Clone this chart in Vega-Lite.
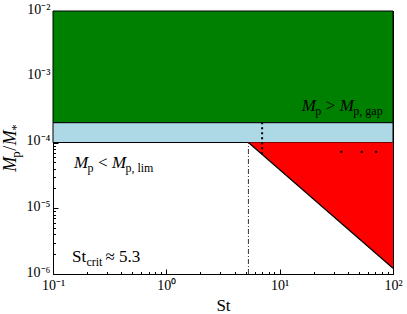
{
  "$schema": "https://vega.github.io/schema/vega-lite/v6.json",
  "width": 340,
  "height": 263,
  "autosize": "none",
  "padding": {"left": 53, "top": 11, "right": 14, "bottom": 40},
  "config": {
    "view": {"stroke": "black", "strokeWidth": 1},
    "font": "Liberation Serif",
    "text": {"font": "Liberation Serif", "color": "black"},
    "axis": {"grid": false, "domain": false, "labelFont": "Liberation Serif", "labelFontSize": 14, "labelColor": "black", "tickColor": "black", "tickWidth": 1, "titleFont": "Liberation Serif", "titleFontWeight": "normal", "titleColor": "black", "titleFontSize": 17}
  },
  "datasets": {
    "labels": [
      {"id": "gap", "St": 15.7, "M": 0.000301},
      {"id": "lim", "St": 0.153, "M": 0.0000409},
      {"id": "crit", "St": 0.147, "M": 0.00000152},
      {"id": "ytitle", "St": 0.1, "M": 0.000036}
    ]
  },
  "layer": [
    {
      "data": {"values": [{"x": 0.1, "x2": 100, "y": 0.0002, "y2": 0.01}]},
      "mark": {"type": "rect", "fill": "#008000", "stroke": "black", "strokeWidth": 1},
      "encoding": {
        "x": {"field": "x", "type": "quantitative", "scale": {"type": "log", "domain": [0.1, 100], "nice": false},
          "axis": {"orient": "bottom", "title": "St", "titlePadding": 3, "titleFont": "Liberation Serif", "labelFont": "Liberation Serif", "values": [0.1, 0.2, 0.3, 0.4, 0.5, 0.6, 0.7, 0.8, 0.9, 1, 2, 3, 4, 5, 6, 7, 8, 9, 10, 20, 30, 40, 50, 60, 70, 80, 90, 100],
            "labelExpr": "datum.value == 0.1 ? '10⁻¹' : datum.value == 1 ? '10⁰' : datum.value == 10 ? '10¹' : datum.value == 100 ? '10²' : ''",
            "tickSize": {"condition": {"test": "datum.value == 0.1 || datum.value == 1 || datum.value == 10 || datum.value == 100", "value": -5}, "value": -2.5},
            "labelPadding": 9, "labelFlush": false, "labelOverlap": false}},
        "x2": {"field": "x2"},
        "y": {"field": "y", "type": "quantitative", "scale": {"type": "log", "domain": [0.000001, 0.01], "nice": false},
          "axis": {"orient": "left", "title": null, "labelFont": "Liberation Serif", "values": [0.000001, 0.000002, 0.000003, 0.000004, 0.000005, 0.000006, 0.000007, 0.000008, 0.000009, 0.00001, 0.00002, 0.00003, 0.00004, 0.00005, 0.00006, 0.00007, 0.00008, 0.00009, 0.0001, 0.0002, 0.0003, 0.0004, 0.0005, 0.0006, 0.0007, 0.0008, 0.0009, 0.001, 0.002, 0.003, 0.004, 0.005, 0.006, 0.007, 0.008, 0.009, 0.01],
            "labelExpr": "datum.value == 0.000001 ? '10⁻⁶' : datum.value == 0.00001 ? '10⁻⁵' : datum.value == 0.0001 ? '10⁻⁴' : datum.value == 0.001 ? '10⁻³' : datum.value == 0.01 ? '10⁻²' : ''",
            "tickSize": {"condition": {"test": "datum.value == 0.000001 || datum.value == 0.00001 || datum.value == 0.0001 || datum.value == 0.001 || datum.value == 0.01", "value": -5}, "value": -2.5},
            "labelPadding": 8, "labelOffset": -2, "labelFlush": false, "labelOverlap": false}},
        "y2": {"field": "y2"}
      }
    },
    {
      "data": {"values": [{"x": 0.1, "x2": 100, "y": 0.0001, "y2": 0.0002}]},
      "mark": {"type": "rect", "fill": "#ADD8E6", "stroke": "black", "strokeWidth": 1},
      "encoding": {
        "x": {"field": "x", "type": "quantitative", "scale": {"type": "log", "domain": [0.1, 100], "nice": false},
          "axis": {"orient": "top", "title": null, "labels": false, "values": [0.1, 0.2, 0.3, 0.4, 0.5, 0.6, 0.7, 0.8, 0.9, 1, 2, 3, 4, 5, 6, 7, 8, 9, 10, 20, 30, 40, 50, 60, 70, 80, 90, 100],
            "tickSize": {"condition": {"test": "datum.value == 0.1 || datum.value == 1 || datum.value == 10 || datum.value == 100", "value": -5}, "value": -2.5}}},
        "x2": {"field": "x2"},
        "y": {"field": "y", "type": "quantitative", "scale": {"type": "log", "domain": [0.000001, 0.01], "nice": false},
          "axis": {"orient": "right", "title": null, "labels": false, "values": [0.000001, 0.000002, 0.000003, 0.000004, 0.000005, 0.000006, 0.000007, 0.000008, 0.000009, 0.00001, 0.00002, 0.00003, 0.00004, 0.00005, 0.00006, 0.00007, 0.00008, 0.00009, 0.0001, 0.0002, 0.0003, 0.0004, 0.0005, 0.0006, 0.0007, 0.0008, 0.0009, 0.001, 0.002, 0.003, 0.004, 0.005, 0.006, 0.007, 0.008, 0.009, 0.01],
            "tickSize": {"condition": {"test": "datum.value == 0.000001 || datum.value == 0.00001 || datum.value == 0.0001 || datum.value == 0.001 || datum.value == 0.01", "value": -5}, "value": -2.5}}},
        "y2": {"field": "y2"}
      }
    },
    {
      "data": {"values": [{"St": 5.3, "M": 0.0001, "Mtop": 0.0001}, {"St": 100, "M": 0.00000122, "Mtop": 0.0001}]},
      "mark": {"type": "area", "fill": "#FF0000"},
      "encoding": {
        "x": {"field": "St", "type": "quantitative", "scale": {"type": "log", "domain": [0.1, 100], "nice": false}, "axis": null},
        "y": {"field": "M", "type": "quantitative", "scale": {"type": "log", "domain": [0.000001, 0.01], "nice": false}, "axis": null},
        "y2": {"field": "Mtop"}
      }
    },
    {
      "data": {"values": [{"St": 5.3, "M": 0.0001}, {"St": 100, "M": 0.00000122}]},
      "mark": {"type": "line", "color": "black", "strokeWidth": 1.2},
      "encoding": {
        "x": {"field": "St", "type": "quantitative", "scale": {"type": "log", "domain": [0.1, 100], "nice": false}, "axis": null},
        "y": {"field": "M", "type": "quantitative", "scale": {"type": "log", "domain": [0.000001, 0.01], "nice": false}, "axis": null}
      }
    },
    {
      "data": {"values": [{"St": 5.3, "lo": 0.000001, "hi": 0.0001}]},
      "mark": {"type": "rule", "color": "#333333", "strokeWidth": 1, "strokeDash": [5, 2, 1, 2]},
      "encoding": {
        "x": {"field": "St", "type": "quantitative", "scale": {"type": "log", "domain": [0.1, 100], "nice": false}, "axis": null},
        "y": {"field": "lo", "type": "quantitative", "scale": {"type": "log", "domain": [0.000001, 0.01], "nice": false}, "axis": null},
        "y2": {"field": "hi"}
      }
    },
    {
      "data": {"values": [{"St": 7, "lo": 0.000066, "hi": 0.0002}]},
      "mark": {"type": "rule", "color": "black", "strokeWidth": 2, "strokeDash": [2, 3]},
      "encoding": {
        "x": {"field": "St", "type": "quantitative", "scale": {"type": "log", "domain": [0.1, 100], "nice": false}, "axis": null},
        "y": {"field": "lo", "type": "quantitative", "scale": {"type": "log", "domain": [0.000001, 0.01], "nice": false}, "axis": null},
        "y2": {"field": "hi"}
      }
    },
    {
      "data": {"values": [{"St": 35, "M": 0.000072}, {"St": 53, "M": 0.000072}, {"St": 71, "M": 0.000072}]},
      "mark": {"type": "point", "shape": "square", "filled": true, "color": "black", "size": 4, "opacity": 1},
      "encoding": {
        "x": {"field": "St", "type": "quantitative", "scale": {"type": "log", "domain": [0.1, 100], "nice": false}, "axis": null},
        "y": {"field": "M", "type": "quantitative", "scale": {"type": "log", "domain": [0.000001, 0.01], "nice": false}, "axis": null}
      }
    },
    {
      "data": {"name": "labels"},
      "transform": [{"filter": "datum.id == 'gap' || datum.id == 'lim'"}],
      "mark": {"type": "text", "text": "M", "font": "Liberation Serif", "fontStyle": "italic", "fontSize": 17, "align": "left", "baseline": "alphabetic", "color": "black"},
      "encoding": {
        "x": {"field": "St", "type": "quantitative", "scale": {"type": "log", "domain": [0.1, 100], "nice": false}, "axis": null},
        "y": {"field": "M", "type": "quantitative", "scale": {"type": "log", "domain": [0.000001, 0.01], "nice": false}, "axis": null}
      }
    },
    {
      "data": {"name": "labels"},
      "transform": [{"filter": "datum.id == 'gap' || datum.id == 'lim'"}],
      "mark": {"type": "text", "text": "p", "font": "Liberation Serif", "fontSize": 12, "align": "left", "baseline": "alphabetic", "dx": 13.5, "dy": 3.5, "color": "black"},
      "encoding": {
        "x": {"field": "St", "type": "quantitative", "scale": {"type": "log", "domain": [0.1, 100], "nice": false}, "axis": null},
        "y": {"field": "M", "type": "quantitative", "scale": {"type": "log", "domain": [0.000001, 0.01], "nice": false}, "axis": null}
      }
    },
    {
      "data": {"name": "labels"},
      "transform": [{"filter": "datum.id == 'gap' || datum.id == 'lim'"}],
      "mark": {"type": "text", "text": "M", "font": "Liberation Serif", "fontStyle": "italic", "fontSize": 17, "align": "left", "baseline": "alphabetic", "dx": 38, "color": "black"},
      "encoding": {
        "x": {"field": "St", "type": "quantitative", "scale": {"type": "log", "domain": [0.1, 100], "nice": false}, "axis": null},
        "y": {"field": "M", "type": "quantitative", "scale": {"type": "log", "domain": [0.000001, 0.01], "nice": false}, "axis": null}
      }
    },
    {
      "data": {"name": "labels"},
      "transform": [{"filter": "datum.id == 'gap'"}],
      "mark": {"type": "text", "text": ">", "font": "Liberation Serif", "fontSize": 17, "align": "left", "baseline": "alphabetic", "dx": 24, "color": "black"},
      "encoding": {
        "x": {"field": "St", "type": "quantitative", "scale": {"type": "log", "domain": [0.1, 100], "nice": false}, "axis": null},
        "y": {"field": "M", "type": "quantitative", "scale": {"type": "log", "domain": [0.000001, 0.01], "nice": false}, "axis": null}
      }
    },
    {
      "data": {"name": "labels"},
      "transform": [{"filter": "datum.id == 'gap'"}],
      "mark": {"type": "text", "text": "p, gap", "font": "Liberation Serif", "fontSize": 12, "align": "left", "baseline": "alphabetic", "dx": 51.5, "dy": 3.5, "color": "black"},
      "encoding": {
        "x": {"field": "St", "type": "quantitative", "scale": {"type": "log", "domain": [0.1, 100], "nice": false}, "axis": null},
        "y": {"field": "M", "type": "quantitative", "scale": {"type": "log", "domain": [0.000001, 0.01], "nice": false}, "axis": null}
      }
    },
    {
      "data": {"name": "labels"},
      "transform": [{"filter": "datum.id == 'lim'"}],
      "mark": {"type": "text", "text": "<", "font": "Liberation Serif", "fontSize": 17, "align": "left", "baseline": "alphabetic", "dx": 24, "color": "black"},
      "encoding": {
        "x": {"field": "St", "type": "quantitative", "scale": {"type": "log", "domain": [0.1, 100], "nice": false}, "axis": null},
        "y": {"field": "M", "type": "quantitative", "scale": {"type": "log", "domain": [0.000001, 0.01], "nice": false}, "axis": null}
      }
    },
    {
      "data": {"name": "labels"},
      "transform": [{"filter": "datum.id == 'lim'"}],
      "mark": {"type": "text", "text": "p, lim", "font": "Liberation Serif", "fontSize": 12, "align": "left", "baseline": "alphabetic", "dx": 51.5, "dy": 3.5, "color": "black"},
      "encoding": {
        "x": {"field": "St", "type": "quantitative", "scale": {"type": "log", "domain": [0.1, 100], "nice": false}, "axis": null},
        "y": {"field": "M", "type": "quantitative", "scale": {"type": "log", "domain": [0.000001, 0.01], "nice": false}, "axis": null}
      }
    },
    {
      "data": {"name": "labels"},
      "transform": [{"filter": "datum.id == 'crit'"}],
      "mark": {"type": "text", "text": "St", "font": "Liberation Serif", "fontSize": 17, "align": "left", "baseline": "alphabetic", "color": "black"},
      "encoding": {
        "x": {"field": "St", "type": "quantitative", "scale": {"type": "log", "domain": [0.1, 100], "nice": false}, "axis": null},
        "y": {"field": "M", "type": "quantitative", "scale": {"type": "log", "domain": [0.000001, 0.01], "nice": false}, "axis": null}
      }
    },
    {
      "data": {"name": "labels"},
      "transform": [{"filter": "datum.id == 'crit'"}],
      "mark": {"type": "text", "text": "crit", "font": "Liberation Serif", "fontSize": 12, "align": "left", "baseline": "alphabetic", "dx": 14.5, "dy": 3.5, "color": "black"},
      "encoding": {
        "x": {"field": "St", "type": "quantitative", "scale": {"type": "log", "domain": [0.1, 100], "nice": false}, "axis": null},
        "y": {"field": "M", "type": "quantitative", "scale": {"type": "log", "domain": [0.000001, 0.01], "nice": false}, "axis": null}
      }
    },
    {
      "data": {"name": "labels"},
      "transform": [{"filter": "datum.id == 'crit'"}],
      "mark": {"type": "text", "text": "≈ 5.3", "font": "Liberation Serif", "fontSize": 17, "align": "left", "baseline": "alphabetic", "dx": 33.5, "color": "black"},
      "encoding": {
        "x": {"field": "St", "type": "quantitative", "scale": {"type": "log", "domain": [0.1, 100], "nice": false}, "axis": null},
        "y": {"field": "M", "type": "quantitative", "scale": {"type": "log", "domain": [0.000001, 0.01], "nice": false}, "axis": null}
      }
    },
    {
      "data": {"name": "labels"},
      "transform": [{"filter": "datum.id == 'ytitle'"}],
      "mark": {"type": "text", "text": "M", "font": "Liberation Serif", "fontStyle": "italic", "fontSize": 18, "align": "left", "baseline": "alphabetic", "angle": 270, "dy": -37, "color": "black"},
      "encoding": {
        "x": {"field": "St", "type": "quantitative", "scale": {"type": "log", "domain": [0.1, 100], "nice": false}, "axis": null},
        "y": {"field": "M", "type": "quantitative", "scale": {"type": "log", "domain": [0.000001, 0.01], "nice": false}, "axis": null}
      }
    },
    {
      "data": {"name": "labels"},
      "transform": [{"filter": "datum.id == 'ytitle'"}],
      "mark": {"type": "text", "text": "p", "font": "Liberation Serif", "fontSize": 13, "align": "left", "baseline": "alphabetic", "angle": 270, "dx": 14, "dy": -33.5, "color": "black"},
      "encoding": {
        "x": {"field": "St", "type": "quantitative", "scale": {"type": "log", "domain": [0.1, 100], "nice": false}, "axis": null},
        "y": {"field": "M", "type": "quantitative", "scale": {"type": "log", "domain": [0.000001, 0.01], "nice": false}, "axis": null}
      }
    },
    {
      "data": {"name": "labels"},
      "transform": [{"filter": "datum.id == 'ytitle'"}],
      "mark": {"type": "text", "text": "/", "font": "Liberation Serif", "fontSize": 18, "align": "left", "baseline": "alphabetic", "angle": 270, "dx": 21, "dy": -37, "color": "black"},
      "encoding": {
        "x": {"field": "St", "type": "quantitative", "scale": {"type": "log", "domain": [0.1, 100], "nice": false}, "axis": null},
        "y": {"field": "M", "type": "quantitative", "scale": {"type": "log", "domain": [0.000001, 0.01], "nice": false}, "axis": null}
      }
    },
    {
      "data": {"name": "labels"},
      "transform": [{"filter": "datum.id == 'ytitle'"}],
      "mark": {"type": "text", "text": "M", "font": "Liberation Serif", "fontStyle": "italic", "fontSize": 18, "align": "left", "baseline": "alphabetic", "angle": 270, "dx": 26.5, "dy": -37, "color": "black"},
      "encoding": {
        "x": {"field": "St", "type": "quantitative", "scale": {"type": "log", "domain": [0.1, 100], "nice": false}, "axis": null},
        "y": {"field": "M", "type": "quantitative", "scale": {"type": "log", "domain": [0.000001, 0.01], "nice": false}, "axis": null}
      }
    },
    {
      "data": {"name": "labels"},
      "transform": [{"filter": "datum.id == 'ytitle'"}],
      "mark": {"type": "text", "text": "*", "font": "Liberation Serif", "fontSize": 13, "align": "left", "baseline": "alphabetic", "angle": 270, "dx": 41, "dy": -33.5, "color": "black"},
      "encoding": {
        "x": {"field": "St", "type": "quantitative", "scale": {"type": "log", "domain": [0.1, 100], "nice": false}, "axis": null},
        "y": {"field": "M", "type": "quantitative", "scale": {"type": "log", "domain": [0.000001, 0.01], "nice": false}, "axis": null}
      }
    }
  ],
  "resolve": {"axis": {"x": "independent", "y": "independent"}}
}
